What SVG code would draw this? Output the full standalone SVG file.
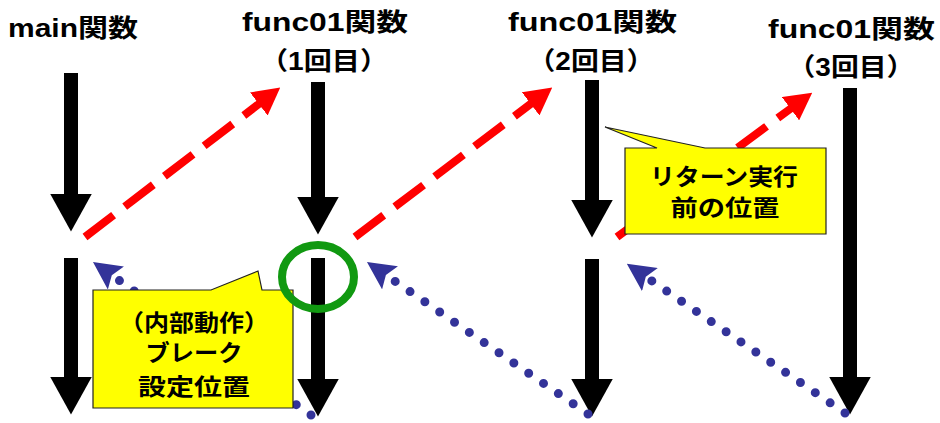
<svg xmlns="http://www.w3.org/2000/svg" width="940" height="423" viewBox="0 0 940 423">
  <style>
    .title { font-family: "Liberation Sans", "Noto Sans CJK JP", sans-serif; font-weight: bold; font-size: 25px; fill: #000; }
    .ctext { font-family: "Liberation Sans", "Noto Sans CJK JP", sans-serif; font-weight: bold; font-size: 23px; fill: #000; text-anchor: middle; }
    .blk { stroke: #000; stroke-width: 14; fill: none; }
    .red { stroke: #ff0000; stroke-width: 8; fill: none; stroke-dasharray: 36 14; }
    .blue { stroke: #333399; stroke-width: 9; fill: none; stroke-dasharray: 0 18; stroke-linecap: round; }
    .callout { fill: #ffff00; stroke: #222; stroke-width: 1.2; }
  </style>
  <defs>
    <marker id="mBlk" markerUnits="userSpaceOnUse" viewBox="0 0 38 42" refX="0.5" refY="21" markerWidth="38" markerHeight="42" orient="auto">
      <path d="M0,0 L38,21 L0,42 z" fill="#000"/>
    </marker>
    <marker id="mRed" markerUnits="userSpaceOnUse" viewBox="0 0 27 29" refX="1" refY="14.5" markerWidth="27" markerHeight="29" orient="auto">
      <path d="M0,0 L27,14.5 L0,29 z" fill="#ff0000"/>
    </marker>
    <marker id="mBlue" markerUnits="userSpaceOnUse" viewBox="0 0 28 28" refX="5" refY="14" markerWidth="28" markerHeight="28" orient="auto">
      <path d="M0,0 L28,14 L0,28 L5,14 z" fill="#333399"/>
    </marker>
  </defs>
  <rect width="940" height="423" fill="#fff"/>

  <g id="titles">
    <g id="main-title"><text class="title" x="8" y="37" textLength="130" lengthAdjust="spacingAndGlyphs">main関数</text></g>
    <g id="func-1-title">
      <text class="title" x="242" y="31" textLength="166" lengthAdjust="spacingAndGlyphs">func01関数</text>
      <text class="title" x="324" y="70" text-anchor="middle" textLength="128" lengthAdjust="spacingAndGlyphs">（1回目）</text>
    </g>
    <g id="func-2-title">
      <text class="title" x="508" y="31" textLength="169" lengthAdjust="spacingAndGlyphs">func01関数</text>
      <text class="title" x="591" y="70" text-anchor="middle" textLength="127" lengthAdjust="spacingAndGlyphs">（2回目）</text>
    </g>
    <g id="func-3-title">
      <text class="title" x="768" y="38" textLength="167" lengthAdjust="spacingAndGlyphs">func01関数</text>
      <text class="title" x="851" y="76" text-anchor="middle" textLength="127" lengthAdjust="spacingAndGlyphs">（3回目）</text>
    </g>
  </g>

  <g id="connectors">
    <!-- black flow arrows -->
    <line class="blk" x1="71" y1="73" x2="71" y2="194" marker-end="url(#mBlk)"/>
    <line class="blk" x1="71" y1="258" x2="71" y2="377" marker-end="url(#mBlk)"/>
    <line class="blk" x1="318" y1="82" x2="318" y2="197" marker-end="url(#mBlk)"/>
    <line class="blk" x1="318" y1="258" x2="318" y2="379" marker-end="url(#mBlk)"/>
    <line class="blk" x1="592" y1="80" x2="592" y2="200" marker-end="url(#mBlk)"/>
    <line class="blk" x1="592" y1="259" x2="592" y2="379" marker-end="url(#mBlk)"/>
    <line class="blk" x1="850" y1="88" x2="850" y2="377" marker-end="url(#mBlk)"/>
    <!-- red dashed call arrows -->
    <line class="red" x1="85" y1="237" x2="259.6" y2="103.4" marker-end="url(#mRed)"/>
    <line class="red" x1="355" y1="237" x2="531.5" y2="103.3" marker-end="url(#mRed)"/>
    <line class="red" x1="617" y1="237" x2="791.3" y2="108.1" marker-end="url(#mRed)"/>
    <!-- blue dotted return arrows -->
    <line class="blue" x1="311" y1="415" x2="111.8" y2="275.2" marker-end="url(#mBlue)"/>
    <line class="blue" x1="588" y1="414" x2="385.9" y2="275.0" marker-end="url(#mBlue)"/>
    <line class="blue" x1="845" y1="413" x2="645.8" y2="276.8" marker-end="url(#mBlue)"/>
  </g>

  <g id="callout-break">
    <path class="callout" d="M93,290 L211,290 L258,271 L262,290 L293,290 L293,408 L93,408 z"/>
    <text class="ctext" x="194" y="331" textLength="150" lengthAdjust="spacingAndGlyphs">（内部動作）</text>
    <text class="ctext" x="194" y="361" textLength="97" lengthAdjust="spacingAndGlyphs">ブレーク</text>
    <text class="ctext" x="194" y="395" textLength="112" lengthAdjust="spacingAndGlyphs">設定位置</text>
  </g>

  <g id="callout-return">
    <path class="callout" d="M625,148 L657,148 L605,127 L705,148 L826,148 L826,234 L625,234 z"/>
    <text class="ctext" x="724" y="185" textLength="148" lengthAdjust="spacingAndGlyphs">リターン実行</text>
    <text class="ctext" x="725" y="216" textLength="109" lengthAdjust="spacingAndGlyphs">前の位置</text>
  </g>

  <g id="highlight-circle">
    <ellipse cx="318" cy="277" rx="36" ry="32" fill="none" stroke="#119911" stroke-width="8"/>
  </g>
</svg>
